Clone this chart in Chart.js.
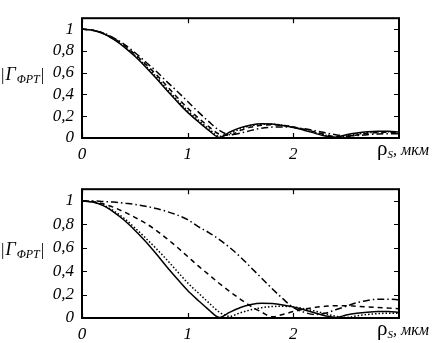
<!DOCTYPE html>
<html>
<head>
<meta charset="utf-8">
<script src="https://cdn.jsdelivr.net/npm/chart.js@4"></script>
<style>
  body { margin: 0; background: #fff; }
  canvas { position: absolute; left: 0; }
  #topChart { top: 0; }
  #bottomChart { top: 171px; }
</style>
</head>
<body>
<canvas id="topChart" width="437" height="172"></canvas>
<canvas id="bottomChart" width="437" height="172"></canvas>
<script>
// rho_S, мкм
const rho = [0, 0.1, 0.2, 0.3, 0.4, 0.5, 0.6, 0.7, 0.8, 0.9, 1, 1.1, 1.2, 1.3, 1.4, 1.5, 1.6, 1.7, 1.8, 1.9, 2, 2.1, 2.2, 2.3, 2.4, 2.5, 2.6, 2.7, 2.8, 2.9, 3];

// upper panel
const topSolid = [1, 0.99, 0.96, 0.905, 0.835, 0.75, 0.655, 0.55, 0.44, 0.335, 0.235, 0.15, 0.07, 0.005, 0.055, 0.095, 0.12, 0.13, 0.128, 0.115, 0.097, 0.072, 0.045, 0.018, 0.008, 0.03, 0.046, 0.057, 0.062, 0.062, 0.056];
const topDotted = [1, 0.99, 0.96, 0.91, 0.84, 0.76, 0.665, 0.565, 0.455, 0.35, 0.25, 0.165, 0.085, 0.015, 0.04, 0.085, 0.112, 0.125, 0.126, 0.117, 0.1, 0.077, 0.052, 0.027, 0.008, 0.018, 0.036, 0.048, 0.055, 0.058, 0.055];
const topDashed = [1, 0.99, 0.962, 0.915, 0.85, 0.77, 0.68, 0.585, 0.48, 0.375, 0.275, 0.185, 0.105, 0.035, 0.025, 0.07, 0.1, 0.117, 0.121, 0.115, 0.1, 0.08, 0.057, 0.033, 0.013, 0.012, 0.028, 0.042, 0.05, 0.054, 0.052];
const topDashDot = [1, 0.99, 0.965, 0.92, 0.86, 0.785, 0.7, 0.615, 0.52, 0.43, 0.335, 0.24, 0.15, 0.07, 0.03, 0.045, 0.07, 0.09, 0.1, 0.102, 0.098, 0.085, 0.068, 0.048, 0.03, 0.02, 0.022, 0.03, 0.037, 0.04, 0.04];

// lower panel
const botSolid = [1, 0.99, 0.96, 0.905, 0.835, 0.75, 0.655, 0.55, 0.44, 0.335, 0.235, 0.15, 0.07, 0.005, 0.05, 0.09, 0.115, 0.125, 0.123, 0.112, 0.095, 0.07, 0.045, 0.02, 0.005, 0.025, 0.04, 0.05, 0.055, 0.055, 0.05];
const botDotted = [1, 0.99, 0.965, 0.915, 0.85, 0.77, 0.685, 0.595, 0.5, 0.4, 0.3, 0.215, 0.13, 0.05, 0.015, 0.045, 0.07, 0.088, 0.098, 0.1, 0.095, 0.08, 0.06, 0.038, 0.015, 0.005, 0.018, 0.03, 0.038, 0.04, 0.04];
const botDashed = [1, 0.995, 0.975, 0.945, 0.905, 0.86, 0.81, 0.75, 0.68, 0.605, 0.525, 0.445, 0.37, 0.295, 0.225, 0.16, 0.1, 0.05, 0.01, 0.03, 0.055, 0.075, 0.09, 0.1, 0.105, 0.105, 0.1, 0.095, 0.09, 0.085, 0.08];
const botDashDot = [1, 1, 0.995, 0.99, 0.98, 0.97, 0.955, 0.935, 0.91, 0.88, 0.84, 0.78, 0.73, 0.67, 0.6, 0.52, 0.43, 0.34, 0.25, 0.165, 0.09, 0.05, 0.03, 0.04, 0.07, 0.1, 0.13, 0.15, 0.16, 0.16, 0.155];

const xTicks = [0, 1, 2];
const yTicks = [0, 0.2, 0.4, 0.6, 0.8, 1];

const SERIF = '"Liberation Serif", "DejaVu Serif", serif';

function series(vals, dash) {
  return {
    data: rho.map((r, i) => ({ x: r, y: vals[i] })),
    borderColor: "#000",
    borderWidth: 1.5,
    borderDash: dash,
    pointRadius: 0,
    cubicInterpolationMode: "monotone",
    fill: false
  };
}

// frame, inward ticks, axis titles
const decor = {
  id: "decor",
  afterDraw(chart) {
    const { ctx, chartArea: a, scales } = chart;
    const x = scales.x, y = scales.y;
    ctx.save();
    ctx.strokeStyle = "#000";
    ctx.lineWidth = 2;
    ctx.strokeRect(a.left, a.top, a.right - a.left, a.bottom - a.top);

    ctx.lineWidth = 1.2;
    ctx.beginPath();
    yTicks.forEach(v => {
      const py = Math.round(y.getPixelForValue(v)) + 0.5;
      ctx.moveTo(a.left, py); ctx.lineTo(a.left + 5, py);
      ctx.moveTo(a.right, py); ctx.lineTo(a.right - 5, py);
    });
    xTicks.forEach(v => {
      const px = Math.round(x.getPixelForValue(v)) + 0.5;
      ctx.moveTo(px, a.bottom); ctx.lineTo(px, a.bottom - 5);
      ctx.moveTo(px, a.top); ctx.lineTo(px, a.top + 5);
    });
    ctx.stroke();

    ctx.fillStyle = "#000";
    ctx.textBaseline = "alphabetic";
    ctx.textAlign = "left";

    // y title |Γ_ΦPT|
    const by = y.getPixelForValue(0.6) + 7;
    let tx = 1;
    ctx.font = "17px " + SERIF;
    ctx.fillText("|", tx, by);
    tx += ctx.measureText("|").width + 1;
    ctx.font = "italic 18px " + SERIF;
    ctx.fillText("Γ", tx, by);
    tx += ctx.measureText("Γ").width + 1;
    ctx.font = "italic 12px " + SERIF;
    ctx.fillText("ΦPT", tx, by + 3);
    tx += ctx.measureText("ΦPT").width + 1;
    ctx.font = "17px " + SERIF;
    ctx.fillText("|", tx, by);

    // x title ρ_S, мкм
    const bx = a.bottom + 17;
    tx = 377;
    ctx.font = "21px " + SERIF;
    ctx.fillText("ρ", tx, bx);
    tx += ctx.measureText("ρ").width;
    ctx.font = "italic 11px " + SERIF;
    ctx.fillText("S", tx, bx + 3);
    tx += ctx.measureText("S").width;
    ctx.font = "italic 16px " + SERIF;
    ctx.fillText(", мкм", tx, bx);
    ctx.restore();
  }
};

function makeChart(id, sets, padTop, xHeight) {
  return new Chart(document.getElementById(id), {
    type: "line",
    data: {
      datasets: [
        series(sets[0], []),
        series(sets[1], [1.5, 2]),
        series(sets[2], [5, 4]),
        series(sets[3], [7, 3, 1.5, 3])
      ]
    },
    options: {
      responsive: false,
      animation: false,
      devicePixelRatio: 1,
      layout: { padding: { top: padTop, right: 38, left: 0, bottom: 0 } },
      plugins: { legend: { display: false }, tooltip: { enabled: false } },
      scales: {
        x: {
          type: "linear",
          min: 0,
          max: 3,
          grid: { display: false, drawTicks: false },
          border: { display: false },
          ticks: {
            stepSize: 1,
            padding: 6,
            color: "#000",
            font: { family: SERIF, size: 17, style: "italic" },
            callback: v => (v === 3 ? "" : String(v))
          },
          afterFit(s) { s.height = xHeight; }
        },
        y: {
          min: 0,
          max: 1.1,
          grid: { display: false, drawTicks: false },
          border: { display: false },
          ticks: {
            stepSize: 0.2,
            includeBounds: false,
            padding: 8,
            color: "#000",
            font: { family: SERIF, size: 17, style: "italic" },
            callback: v => String(Math.round(v * 10) / 10).replace(".", ",")
          },
          afterFit(s) { s.width = 82; }
        }
      }
    },
    plugins: [decor]
  });
}

makeChart("topChart", [topSolid, topDotted, topDashed, topDashDot], 2, 34);
makeChart("bottomChart", [botSolid, botDotted, botDashed, botDashDot], 12, 25);
</script>
</body>
</html>
